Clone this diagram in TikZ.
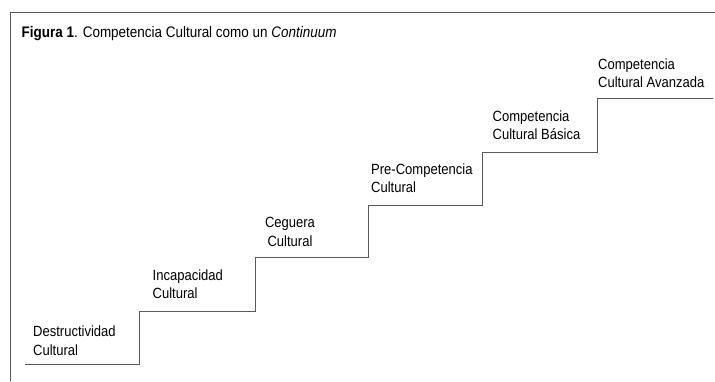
\documentclass[tikz,border=0pt]{standalone}
\usepackage{fontspec}
\setmainfont[FakeStretch=0.88]{Liberation Sans}
\definecolor{linegray}{HTML}{5A5A5A}
\begin{document}
\begin{tikzpicture}[x=1pt,y=-1pt,
  stairline/.style={draw=linegray,line width=0.9pt},
  framel/.style={draw=linegray,line width=0.9pt},
  lab/.style={inner sep=0pt,anchor=south west,align=left,font=\fontsize{14.8}{18.3}\selectfont},
  labc/.style={inner sep=0pt,anchor=south,align=center,font=\fontsize{14.8}{18.3}\selectfont},
  ttl/.style={inner sep=0pt,anchor=base west,font=\fontsize{15.3}{17}\selectfont}]
\useasboundingbox (0,0) rectangle (715,381);
% frame
\coordinate (fbl) at (10,381);
\coordinate (ftl) at (10,12);
\coordinate (ftr) at (715,12);
\draw[framel] (fbl) -- (ftl) -- (ftr);
\node[ttl] (title) at (21.5,37.5) {\textbf{Figura 1}. Competencia Cultural como un \textit{Continuum}};
% stairs
\coordinate (s0) at (25,364);
\coordinate (s1) at (139.5,364);
\coordinate (s1t) at (139.5,311);
\coordinate (s2) at (255,311);
\coordinate (s2t) at (255,257);
\coordinate (s3) at (368.5,257);
\coordinate (s3t) at (368.5,205);
\coordinate (s4) at (482.5,205);
\coordinate (s4t) at (482.5,152);
\coordinate (s5) at (597,152);
\coordinate (s5t) at (597,98);
\coordinate (s6) at (713,98);
\draw[stairline] (s0) -- (s1) -- (s1t) -- (s2) -- (s2t) -- (s3) -- (s3t) -- (s4) -- (s4t) -- (s5) -- (s5t) -- (s6);
% labels
\node[lab] (l1) at (33,355.5) {Destructividad\\Cultural};
\node[lab] (l2) at (152.5,299) {Incapacidad\\Cultural};
\node[labc] (l3) at (290,246.5) {Ceguera\\Cultural};
\node[lab] (l4) at (371,193) {Pre-Competencia\\Cultural};
\node[lab] (l5) at (492.5,140) {Competencia\\Cultural Básica};
\node[lab] (l6) at (598,88) {Competencia\\Cultural Avanzada};
\end{tikzpicture}
\end{document}
